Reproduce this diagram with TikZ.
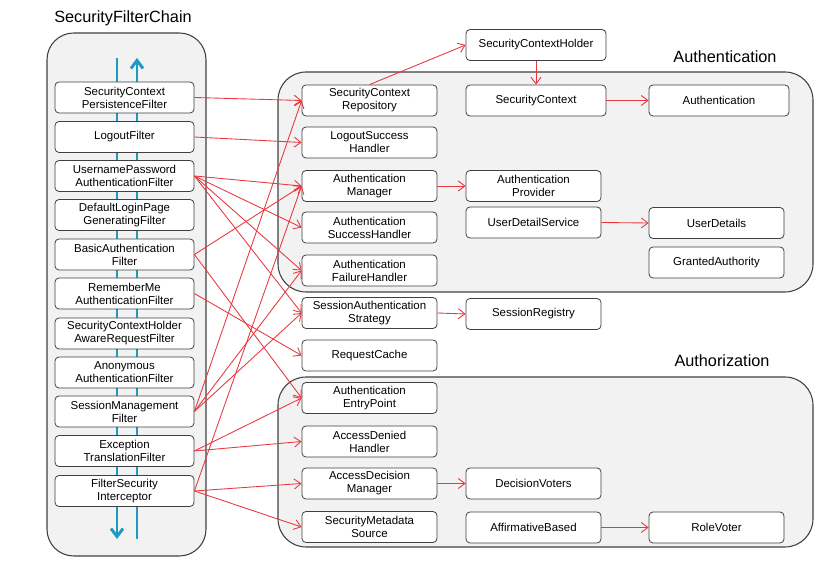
\documentclass[tikz,border=0pt]{standalone}
\usepackage{fontspec}
\setmainfont{Liberation Sans}
\usetikzlibrary{arrows.meta, positioning}

\definecolor{linkred}{HTML}{E8373F}
\definecolor{flowblue}{HTML}{1E9AC2}
\definecolor{panelgray}{HTML}{F2F2F2}

\begin{document}
\begin{tikzpicture}[
    x=0.75pt, y=-0.75pt,
    font=\fontsize{8.6}{9.8}\selectfont,
    % Boxes
    box/.style   ={draw=black!75, fill=white, rounded corners=3pt, align=center,
                   inner sep=1pt, minimum height=23.25pt, line width=0.6pt},
    fbox/.style  ={box, minimum width=104.25pt},
    cbox/.style  ={box, minimum width=101.25pt},
    wbox/.style  ={box, minimum width=105pt},
    panel/.style ={draw=black!75, fill=panelgray, line width=0.8pt},
    title/.style ={font=\fontsize{12.2}{14}\selectfont},
    % Wires
    link/.style  ={draw=linkred, line width=0.65pt, -{Straight Barb[length=5pt,width=7.5pt]}},
    flow/.style  ={draw=flowblue, line width=2.2pt, -{Straight Barb[length=6pt,width=9pt]}}
]
\useasboundingbox (0,0) rectangle (840,573);

% Convenient x-positions for the columns
\def\cA{124.5}   % filter chain
\def\cB{369.5}   % used components
\def\cC{533.5}   % third column
\def\cD{716.5}   % fourth column

% Panels
\draw[panel, rounded corners=20pt] (47,33) rectangle (206,556);
\draw[panel, rounded corners=21pt] (278,72) rectangle (813,292);
\draw[panel, rounded corners=21pt] (278,377) rectangle (813,547);

% Panel titles
\node[title] (tchain) at (123,18)  {SecurityFilterChain};
\node[title] (tauthn) at (725,57)  {Authentication};
\node[title] (tauthz) at (722,361) {Authorization};

% Request flow through the chain
\coordinate (downtop) at (117,58);
\coordinate (downend) at (117,539);
\coordinate (upbot)   at (137,539);
\coordinate (uptop)   at (137,58);
\draw[flow] (downtop) -- (downend);
\draw[flow] (upbot) -- (uptop);

% --------------------------- Filter chain ----------------------------
\node[fbox] (scpf)  at (\cA, 97.5) {SecurityContext\\PersistenceFilter};
\node[fbox] (lof)   at (\cA,137)   {LogoutFilter};
\node[fbox] (upaf)  at (\cA,176)   {UsernamePassword\\AuthenticationFilter};
\node[fbox] (dlpgf) at (\cA,215)   {DefaultLoginPage\\GeneratingFilter};
\node[fbox] (baf)   at (\cA,254.5) {BasicAuthentication\\Filter};
\node[fbox] (rmaf)  at (\cA,293.5) {RememberMe\\AuthenticationFilter};
\node[fbox] (scharf) at (\cA,333.5) {SecurityContextHolder\\AwareRequestFilter};
\node[fbox] (anaf)  at (\cA,372.5) {Anonymous\\AuthenticationFilter};
\node[fbox] (smf)   at (\cA,411.5) {SessionManagement\\Filter};
\node[fbox] (etf)   at (\cA,451)   {Exception\\TranslationFilter};
\node[fbox] (fsi)   at (\cA,491)   {FilterSecurity\\Interceptor};

% ------------------------- Used components ---------------------------
\node[cbox] (scr) at (\cB,100.5) {SecurityContext\\Repository};
\node[cbox] (lsh) at (\cB,142.5) {LogoutSuccess\\Handler};
\node[cbox] (am)  at (\cB,186)   {Authentication\\Manager};
\node[cbox] (ash) at (\cB,227.5) {Authentication\\SuccessHandler};
\node[cbox] (afh) at (\cB,270.5) {Authentication\\FailureHandler};
\node[cbox] (sas) at (\cB,313)   {SessionAuthentication\\Strategy};
\node[cbox] (rc)  at (\cB,355.5) {RequestCache};
\node[cbox] (aep) at (\cB,398)   {Authentication\\EntryPoint};
\node[cbox] (adh) at (\cB,441.5) {AccessDenied\\Handler};
\node[cbox] (adm) at (\cB,483.5) {AccessDecision\\Manager};
\node[cbox] (sms) at (\cB,527)   {SecurityMetadata\\Source};

% ---------------------------- Third column ---------------------------
\node[wbox] (sch) at (536,45)    {SecurityContextHolder};
\node[wbox] (sc)  at (536,100.5) {SecurityContext};
\node[cbox] (ap)  at (\cC,186)   {Authentication\\Provider};
\node[cbox] (uds) at (\cC,222.5) {UserDetailService};
\node[cbox] (sr)  at (\cC,314)   {SessionRegistry};
\node[cbox] (dv)  at (\cC,483.5) {DecisionVoters};
\node[cbox] (ab)  at (\cC,527.5) {AffirmativeBased};

% ---------------------------- Fourth column --------------------------
\node[wbox] (auth) at (719,100.5) {Authentication};
\node[cbox] (ud)   at (\cD,223)   {UserDetails};
\node[cbox] (ga)   at (\cD,262.5) {GrantedAuthority};
\node[cbox] (rv)   at (\cD,527.5) {RoleVoter};

% ======================== Wiring =====================================

% Filters -> components
\draw[link] (scpf.east) -- (scr.west);
\draw[link] (lof.east)  -- (lsh.west);
\draw[link] (upaf.east) -- (am.west);
\draw[link] (upaf.east) -- (ash.west);
\draw[link] (upaf.east) -- (afh.west);
\draw[link] (upaf.east) -- (sas.west);
\draw[link] (baf.east)  -- (am.west);
\draw[link] (baf.east)  -- (aep.west);
\draw[link] (rmaf.east) -- (rc.west);
\draw[link] (smf.east)  -- (scr.west);
\draw[link] (smf.east)  -- (afh.west);
\draw[link] (smf.east)  -- (sas.west);
\draw[link] (etf.east)  -- (aep.west);
\draw[link] (etf.east)  -- (adh.west);
\draw[link] (fsi.east)  -- (am.west);
\draw[link] (fsi.east)  -- (adm.west);
\draw[link] (fsi.east)  -- (sms.west);

% Components -> their collaborators
\draw[link] (scr.north) -- (sch.west);
\draw[link] (sch.south) -- (sc.north);
\draw[link] (sc.east)   -- (auth.west);
\draw[link] (am.east)   -- (ap.west);
\draw[link] (uds.east)  -- (ud.west);
\draw[link] (sas.east)  -- (sr.west);
\draw[link] (adm.east)  -- (dv.west);
\draw[link] (ab.east)   -- (rv.west);

\end{tikzpicture}
\end{document}
